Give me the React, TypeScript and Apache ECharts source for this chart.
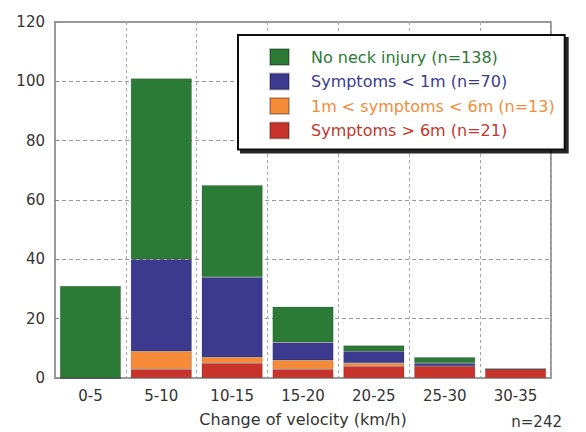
import React, { useEffect, useRef } from "react";
import * as echarts from "echarts";

const categories = ["0-5", "5-10", "10-15", "15-20", "20-25", "25-30", "30-35"];
const redValues = [0, 3, 5, 3, 4, 4, 3];
const orangeValues = [0, 6, 2, 3, 1, 0, 0];
const blueValues = [0, 31, 27, 6, 4, 1, 0];
const greenValues = [31, 61, 31, 12, 2, 2, 0];
const seriesNames = [
  "Symptoms > 6m (n=21)",
  "1m < symptoms < 6m (n=13)",
  "Symptoms < 1m (n=70)",
  "No neck injury (n=138)",
];
const yTicks = [0, 20, 40, 60, 80, 100, 120];
const xAxisTitle = "Change of velocity (km/h)";
const totalNote = "n=242";

const colors = ["#c8342b", "#f58b38", "#3b3a8e", "#2b7a36"];

export default function App() {
  const ref = useRef<HTMLDivElement>(null);
  useEffect(() => {
    if (!ref.current) return;
    const chart = echarts.init(ref.current, null, { renderer: "svg" });
    const dataSets = [redValues, orangeValues, blueValues, greenValues];
    const font = "DejaVu Sans, Verdana, sans-serif";
    chart.setOption({
      animation: false,
      textStyle: { fontFamily: font },
      grid: { left: 55, right: 35, top: 22, bottom: 52, show: true, borderColor: "#9a9a9a", borderWidth: 2 },
      legend: {
        orient: "vertical",
        left: 238,
        top: 35,
        itemWidth: 19,
        itemHeight: 16,
        itemGap: 6.5,
        padding: [13, 10, 10, 31],
        backgroundColor: "#ffffff",
        borderColor: "#111",
        borderWidth: 2,
        shadowColor: "rgba(0,0,0,0.85)",
        shadowBlur: 0,
        shadowOffsetX: 3,
        shadowOffsetY: 3,
        selectedMode: false,
        icon: "rect",
        textStyle: { fontSize: 16, lineHeight: 16, fontFamily: font, padding: [0, 0, 0, 17] },
        data: [3, 2, 1, 0].map((i) => ({
          name: seriesNames[i],
          textStyle: { color: colors[i] },
        })),
      },
      xAxis: {
        type: "category",
        data: categories,
        name: xAxisTitle,
        nameLocation: "middle",
        nameGap: 33,
        nameTextStyle: { color: "#333", fontSize: 16, fontFamily: font },
        axisLine: { show: true, lineStyle: { color: "#9a9a9a", width: 2 } },
        axisTick: { show: false },
        axisLabel: { color: "#333", fontSize: 15, margin: 10 },
        splitLine: { show: true, lineStyle: { color: "#aaa", type: [3, 3], width: 1 } },
      },
      yAxis: {
        type: "value",
        min: 0,
        max: 120,
        interval: 20,
        axisLine: { show: true, lineStyle: { color: "#9a9a9a", width: 2 } },
        axisTick: { show: true, inside: true, length: 4, lineStyle: { color: "#888" } },
        axisLabel: {
          color: "#333",
          fontSize: 15,
          margin: 10,
          formatter: (v: number) => (yTicks.includes(v) ? String(v) : ""),
        },
        splitLine: { show: true, lineStyle: { color: "#999", type: [4, 3], width: 1 } },
      },
      series: dataSets.map((d, i) => ({
        type: "bar",
        name: seriesNames[i],
        stack: "total",
        data: d,
        barCategoryGap: "14%",
        itemStyle: { color: colors[i], borderColor: "rgba(0,0,0,0.25)", borderWidth: 0.6 },
      })),
      graphic: [
        {
          type: "text",
          right: 24,
          top: 414,
          style: { text: totalNote, fill: "#333", font: `15px ${font}` },
        },
      ],
    });
    return () => chart.dispose();
  }, []);
  return <div ref={ref} style={{ width: 586, height: 432, position: "absolute", left: 0, top: 0 }} />;
}
